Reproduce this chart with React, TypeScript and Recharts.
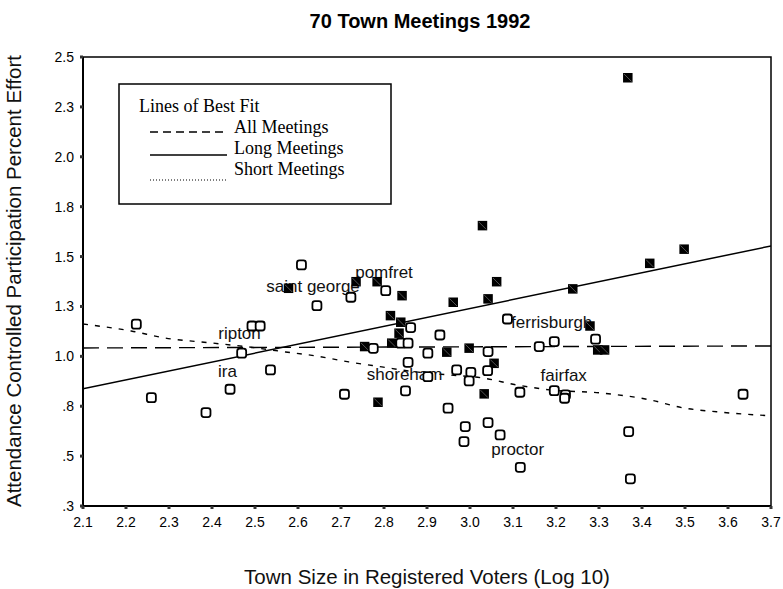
import { ComposedChart, XAxis, YAxis, Scatter, Line, ReferenceArea } from "recharts";

const SANS = "'Liberation Sans', Arial, sans-serif";
const SERIF = "'Liberation Serif', 'Times New Roman', serif";

const xTicks = [2.1, 2.2, 2.3, 2.4, 2.5, 2.6, 2.7, 2.8, 2.9, 3.0, 3.1, 3.2, 3.3, 3.4, 3.5, 3.6, 3.7];
const yTicks = [0.25, 0.5, 0.75, 1.0, 1.25, 1.5, 1.75, 2.0, 2.25, 2.5];
const yTickLabels = [".3", ".5", ".8", "1.0", "1.3", "1.5", "1.8", "2.0", "2.3", "2.5"];

// long meetings (filled squares)
const longMeetings = [
  { x: 3.367, y: 2.396 },
  { x: 3.418, y: 1.466 },
  { x: 3.498, y: 1.537 },
  { x: 3.239, y: 1.338 },
  { x: 3.279, y: 1.152 },
  { x: 3.297, y: 1.032 },
  { x: 3.313, y: 1.032 },
  { x: 3.029, y: 1.655 },
  { x: 3.062, y: 1.374 },
  { x: 2.961, y: 1.271 },
  { x: 3.042, y: 1.288 },
  { x: 2.842, y: 1.304 },
  { x: 2.735, y: 1.374 },
  { x: 2.784, y: 1.374 },
  { x: 2.578, y: 1.341 },
  { x: 2.815, y: 1.204 },
  { x: 2.839, y: 1.171 },
  { x: 2.835, y: 1.116 },
  { x: 2.818, y: 1.066 },
  { x: 2.755, y: 1.049 },
  { x: 2.946, y: 1.021 },
  { x: 2.998, y: 1.041 },
  { x: 3.056, y: 0.965 },
  { x: 3.033, y: 0.812 },
  { x: 2.786, y: 0.77 },
];

// short meetings (open squares)
const shortMeetings = [
  { x: 2.224, y: 1.161 },
  { x: 2.259, y: 0.793 },
  { x: 2.386, y: 0.718 },
  { x: 2.442, y: 0.835 },
  { x: 2.469, y: 1.016 },
  { x: 2.493, y: 1.152 },
  { x: 2.512, y: 1.152 },
  { x: 2.536, y: 0.932 },
  { x: 2.608, y: 1.458 },
  { x: 2.644, y: 1.254 },
  { x: 2.723, y: 1.296 },
  { x: 2.804, y: 1.329 },
  { x: 2.708, y: 0.81 },
  { x: 2.775, y: 1.04 },
  { x: 2.862, y: 1.144 },
  { x: 2.839, y: 1.066 },
  { x: 2.856, y: 1.066 },
  { x: 2.93, y: 1.107 },
  { x: 2.902, y: 1.016 },
  { x: 3.042, y: 1.024 },
  { x: 3.087, y: 1.187 },
  { x: 3.161, y: 1.049 },
  { x: 3.196, y: 1.074 },
  { x: 3.292, y: 1.086 },
  { x: 2.856, y: 0.97 },
  { x: 2.902, y: 0.898 },
  { x: 2.969, y: 0.932 },
  { x: 3.002, y: 0.92 },
  { x: 2.998, y: 0.877 },
  { x: 3.041, y: 0.928 },
  { x: 2.85, y: 0.827 },
  { x: 3.116, y: 0.82 },
  { x: 3.196, y: 0.828 },
  { x: 3.222, y: 0.807 },
  { x: 3.22, y: 0.79 },
  { x: 2.949, y: 0.74 },
  { x: 2.989, y: 0.648 },
  { x: 2.986, y: 0.573 },
  { x: 3.042, y: 0.668 },
  { x: 3.07, y: 0.606 },
  { x: 3.117, y: 0.444 },
  { x: 3.635, y: 0.81 },
  { x: 3.369, y: 0.623 },
  { x: 3.373, y: 0.386 },
];

const townLabels = [
  { x: 2.8, y: 1.413, name: "pomfret" },
  { x: 2.635, y: 1.343, name: "saint george" },
  { x: 2.464, y: 1.107, name: "ripton" },
  { x: 2.436, y: 0.919, name: "ira" },
  { x: 2.848, y: 0.904, name: "shoreham" },
  { x: 3.19, y: 1.162, name: "ferrisburgh" },
  { x: 3.218, y: 0.899, name: "fairfax" },
  { x: 3.111, y: 0.528, name: "proctor" },
];

const allMeetingsFit = [
  { x: 2.1, y: 1.042 },
  { x: 3.7, y: 1.052 },
];

const longMeetingsFit = [
  { x: 2.1, y: 0.837 },
  { x: 3.7, y: 1.553 },
];

const shortMeetingsFit = [
  { x: 2.1, y: 1.162 },
  { x: 2.212, y: 1.127 },
  { x: 2.291, y: 1.092 },
  { x: 2.399, y: 1.067 },
  { x: 2.485, y: 1.047 },
  { x: 2.571, y: 1.022 },
  { x: 2.641, y: 1.002 },
  { x: 2.718, y: 0.972 },
  { x: 2.795, y: 0.947 },
  { x: 2.874, y: 0.922 },
  { x: 2.951, y: 0.907 },
  { x: 3.028, y: 0.892 },
  { x: 3.108, y: 0.857 },
  { x: 3.185, y: 0.832 },
  { x: 3.301, y: 0.817 },
  { x: 3.418, y: 0.782 },
  { x: 3.495, y: 0.742 },
  { x: 3.574, y: 0.722 },
  { x: 3.7, y: 0.702 },
];

function FilledSquare(props: any) {
  const { cx, cy } = props;
  if (cx == null || cy == null) return null;
  const s = 9.5;
  return (
    <g>
      <rect x={cx - s / 2} y={cy - s / 2} width={s} height={s} fill="#000" />
      <line
        x1={cx - s / 2 + 1}
        y1={cy - s / 2 + 1}
        x2={cx + s / 2 - 1}
        y2={cy + s / 2 - 1}
        stroke="#8c8c8c"
        strokeWidth={0.6}
      />
    </g>
  );
}

function OpenSquare(props: any) {
  const { cx, cy } = props;
  if (cx == null || cy == null) return null;
  const s = 9;
  return (
    <rect
      x={cx - s / 2}
      y={cy - s / 2}
      width={s}
      height={s}
      rx={2.5}
      fill="#fff"
      stroke="#000"
      strokeWidth={1.8}
    />
  );
}

function TownLabel(props: any) {
  const { cx, cy, payload } = props;
  if (cx == null || cy == null) return null;
  return (
    <text x={cx} y={cy} dy={4.4} textAnchor="middle" fontSize={17} fill="#111" fontFamily={SANS}>
      {payload.name}
    </text>
  );
}

function LegendBox() {
  return (
    <g fontFamily={SERIF} fontSize={18} fill="#000">
      <rect x={119} y={84} width={272} height={120} fill="#fff" stroke="#000" strokeWidth={1.5} />
      <text x={139} y={112}>Lines of Best Fit</text>
      <line x1={150} y1={132} x2={227} y2={132} stroke="#000" strokeWidth={1.5} strokeDasharray="8 5" />
      <text x={234} y={133}>All Meetings</text>
      <line x1={150} y1={155} x2={227} y2={155} stroke="#000" strokeWidth={1.5} />
      <text x={234} y={154}>Long Meetings</text>
      <line x1={150} y1={180} x2={227} y2={180} stroke="#000" strokeWidth={1.2} strokeDasharray="1 2" />
      <text x={234} y={175}>Short Meetings</text>
    </g>
  );
}

export default function App() {
  return (
    <div style={{ position: "absolute", left: 0, top: 0, width: 783, height: 589, background: "#fff" }}>
      <ComposedChart width={783} height={589} margin={{ top: 57, right: 12, bottom: 53, left: 0 }}>
        <XAxis
          type="number"
          dataKey="x"
          domain={[2.1, 3.7]}
          ticks={xTicks}
          interval={0}
          allowDataOverflow
          height={30}
          tickFormatter={(v: number) => v.toFixed(1)}
          axisLine={{ stroke: "#000", strokeWidth: 2 }}
          tickLine={{ stroke: "#333", strokeWidth: 3 }}
          tickSize={3}
          tickMargin={8}
          tick={{ fill: "#000", fontSize: 14, fontFamily: SANS }}
        />
        <YAxis
          type="number"
          dataKey="y"
          domain={[0.25, 2.5]}
          ticks={yTicks}
          interval={0}
          allowDataOverflow
          width={83}
          tickFormatter={(v: number) => yTickLabels[yTicks.indexOf(v)] ?? String(v)}
          axisLine={{ stroke: "#000", strokeWidth: 2 }}
          tickLine={{ stroke: "#333", strokeWidth: 3 }}
          tickSize={3}
          tickMargin={6}
          tick={{ fill: "#000", fontSize: 14, fontFamily: SANS }}
        />
        <ReferenceArea
          x1={2.1}
          x2={3.7}
          y1={0.25}
          y2={2.5}
          fill="none"
          fillOpacity={0}
          stroke="#000"
          strokeWidth={1.5}
          strokeOpacity={1}
        />
        <Line
          data={allMeetingsFit}
          dataKey="y"
          type="linear"
          stroke="#000"
          strokeWidth={1.4}
          strokeDasharray="16 8"
          dot={false}
          activeDot={false}
          isAnimationActive={false}
        />
        <Line
          data={longMeetingsFit}
          dataKey="y"
          type="linear"
          stroke="#000"
          strokeWidth={1.5}
          dot={false}
          activeDot={false}
          isAnimationActive={false}
        />
        <Line
          data={shortMeetingsFit}
          dataKey="y"
          type="monotone"
          stroke="#000"
          strokeWidth={1.4}
          strokeDasharray="5 7"
          dot={false}
          activeDot={false}
          isAnimationActive={false}
        />
        <Scatter data={townLabels} dataKey="y" shape={TownLabel} isAnimationActive={false} />
        <Scatter data={longMeetings} dataKey="y" shape={FilledSquare} isAnimationActive={false} />
        <Scatter data={shortMeetings} dataKey="y" shape={OpenSquare} isAnimationActive={false} />
      </ComposedChart>
      <svg
        width={783}
        height={589}
        style={{ position: "absolute", left: 0, top: 0, pointerEvents: "none" }}
      >
        <text x={420} y={28} textAnchor="middle" fontFamily={SANS} fontWeight="bold" fontSize={20} fill="#000">
          70 Town Meetings 1992
        </text>
        <text
          x={21}
          y={281}
          transform="rotate(-90 21 281)"
          textAnchor="middle"
          fontFamily={SANS}
          fontSize={20.5}
          fill="#111"
        >
          Attendance Controlled Participation Percent Effort
        </text>
        <text x={427} y={584} textAnchor="middle" fontFamily={SANS} fontSize={20.5} fill="#111">
          Town Size in Registered Voters (Log 10)
        </text>
        <LegendBox />
      </svg>
    </div>
  );
}
